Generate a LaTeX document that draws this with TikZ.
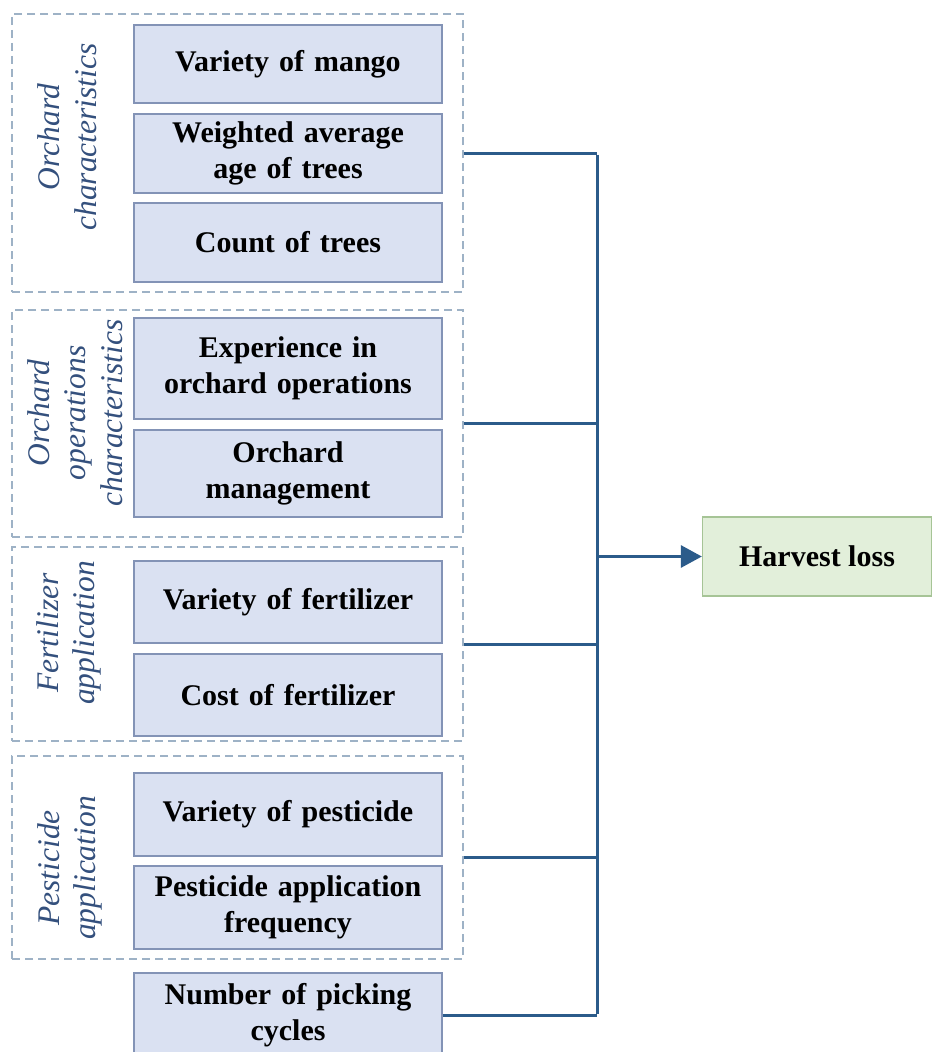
\documentclass[tikz,border=0pt]{standalone}
\usepackage{fontspec}
\setmainfont{Liberation Serif}
\usetikzlibrary{arrows.meta}
\definecolor{boxfill}{HTML}{DAE1F2}
\definecolor{boxline}{HTML}{8393B6}
\definecolor{grpline}{HTML}{9EB2C6}
\definecolor{lblcol}{HTML}{34507D}
\definecolor{conncol}{HTML}{2B5B8A}
\definecolor{outfill}{HTML}{E2EFDA}
\definecolor{outline}{HTML}{A6C496}
\tikzset{
  factor/.style={draw=boxline, line width=1.3pt, fill=boxfill, minimum width=308pt,
    text width=304pt, align=center, inner sep=0pt,
    font=\bfseries\fontsize{30}{36}\selectfont},
  group/.style={draw=grpline, line width=1.4pt, dash pattern=on 8pt off 5pt,
    minimum width=451pt, inner sep=0pt},
  grplabel/.style={rotate=90, align=center, text=lblcol, inner sep=0pt,
    font=\itshape\fontsize{31.5}{36.5}\selectfont},
  conn/.style={draw=conncol, line width=3pt},
  outcome/.style={draw=outline, line width=1.3pt, fill=outfill, minimum width=229pt,
    minimum height=79pt, inner sep=0pt, font=\bfseries\fontsize{30}{36}\selectfont}
}
\begin{document}
\begin{tikzpicture}[x=1pt, y=-1pt]
\useasboundingbox (0,0) rectangle (932,1052);
\clip (0,0) rectangle (932,1052);
\fill[white] (0,0) rectangle (932,1052);

% dashed group frames
\node[group, minimum height=278pt] (g1) at (237.5,153) {};
\node[group, minimum height=227pt] (g2) at (237.5,423.5) {};
\node[group, minimum height=194pt] (g3) at (237.5,644) {};
\node[group, minimum height=203pt] (g4) at (237.5,857.5) {};

% group labels
\node[grplabel] (l1) at (67,137) {Orchard\\characteristics};
\node[grplabel] (l2) at (75,413) {Orchard\\operations\\characteristics};
\node[grplabel] (l3) at (69,633) {Fertilizer\\application};
\node[grplabel] (l4) at (70,868) {Pesticide\\application};

% factor boxes
\node[factor, minimum height=78pt] (b1) at (288,64) {Variety of mango};
\node[factor, minimum height=79pt] (b2) at (288,153.5) {Weighted average\\age of trees};
\node[factor, minimum height=79pt] (b3) at (288,242.5) {Count of trees};
\node[factor, minimum height=101pt] (b4) at (288,368.5) {Experience in\\orchard operations};
\node[factor, minimum height=87pt] (b5) at (288,473.5) {Orchard\\management};
\node[factor, minimum height=82pt] (b6) at (288,602) {Variety of fertilizer};
\node[factor, minimum height=82pt] (b7) at (288,695) {Cost of fertilizer};
\node[factor, minimum height=83pt] (b8) at (288,814.5) {Variety of pesticide};
\node[factor, minimum height=83pt] (b9) at (288,907.5) {Pesticide application\\frequency};
\node[factor, minimum height=84pt] (b10) at (288,1015) {Number of picking\\cycles};

% outcome
\node[outcome] (hl) at (817,556.5) {Harvest loss};

% collecting bus
\coordinate (bt) at (597,153);
\coordinate (bb) at (597,1015);
\draw[conn] (g1.east) -- (g1.east -| bt);
\draw[conn] (g2.east) -- (g2.east -| bt);
\draw[conn] (g3.east) -- (g3.east -| bt);
\draw[conn] (g4.east) -- (g4.east -| bt);
\draw[conn] (b10.east) -- (b10.east -| bb);
\draw[conn] ([yshift=-1.5pt]bt) -- ([yshift=1.5pt]bb);
\draw[conn, -{Triangle[length=21pt, width=22pt]}] (hl.west -| bt) -- (hl.west);
\end{tikzpicture}
\end{document}
